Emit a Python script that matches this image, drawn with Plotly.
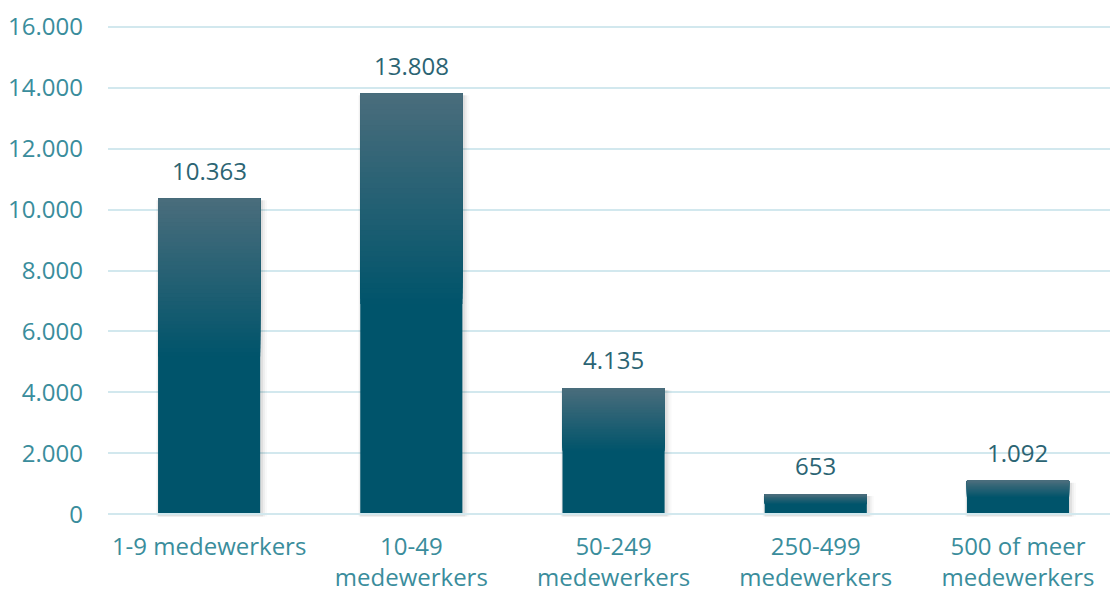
import plotly.graph_objects as go

# Aantal bedrijven per grootteklasse
categories = [
    "1-9 medewerkers",
    "10-49<br>medewerkers",
    "50-249<br>medewerkers",
    "250-499<br>medewerkers",
    "500 of meer<br>medewerkers",
]
values = [10363, 13808, 4135, 653, 1092]
y_ticks = [0, 2000, 4000, 6000, 8000, 10000, 12000, 14000, 16000]

FONT = "Open Sans"
FONT_SIZE = 24
TICK_COLOR = "#3a8d9c"
LABEL_COLOR = "#2b6473"
GRID_COLOR = "#d2e8ee"
DARK = (0, 84, 107)      # bar colour at the base
LIGHT = (74, 109, 124)   # bar colour at the top
BAR_WIDTH = 0.505
STEPS = 40               # gradient slices in the upper half of each bar


def mix(a, b, t):
    return "rgb({},{},{})".format(*[round(a[i] + (b[i] - a[i]) * t) for i in range(3)])


def fmt(v):
    return f"{v:,}".replace(",", ".")


fig = go.Figure()

# soft shadow behind the bars, mostly towards the right
for w, a, dx in [(0.55, 0.025, 0.012), (0.535, 0.04, 0.009), (0.52, 0.06, 0.007)]:
    fig.add_trace(go.Bar(
        x=categories, y=[v + 20 for v in values], base=[-75] * len(values),
        width=w, offset=-w / 2 + dx,
        marker=dict(color=f"rgba(0,0,0,{a})", line=dict(width=0)),
        hoverinfo="skip", showlegend=False,
    ))

# solid base of each bar
fig.add_trace(go.Bar(
    x=categories, y=values, width=BAR_WIDTH,
    marker=dict(color=mix(DARK, DARK, 0), line=dict(width=0)),
    hovertemplate="%{x}: %{y:,d}<extra></extra>", showlegend=False,
))

# vertical gradient over the upper half: each slice runs from its start to the bar top
for k in range(STEPS):
    frac = 0.5 + 0.5 * k / STEPS
    t = (k + 0.5) / STEPS
    fig.add_trace(go.Bar(
        x=categories,
        y=[v * (1 - frac) for v in values],
        base=[v * frac for v in values],
        width=BAR_WIDTH,
        marker=dict(color=mix(DARK, LIGHT, t), line=dict(width=0)),
        hoverinfo="skip", showlegend=False,
    ))

# value labels above the bars
for c, v in zip(categories, values):
    fig.add_annotation(
        x=c, y=v, text=fmt(v), showarrow=False,
        yanchor="bottom", yshift=10,
        font=dict(family=FONT, size=FONT_SIZE, color=LABEL_COLOR),
    )

fig.update_layout(
    width=1110, height=592,
    margin=dict(l=108, r=0, t=25.2, b=75.3),
    barmode="overlay",
    plot_bgcolor="white", paper_bgcolor="white",
    font=dict(family=FONT, size=FONT_SIZE, color=TICK_COLOR),
    separators=",.",
    xaxis=dict(
        range=[-0.5, 4.455], showgrid=False, showline=False, zeroline=False,
        ticks="", ticklabelstandoff=13, fixedrange=True,
        tickfont=dict(family=FONT, size=FONT_SIZE, color=TICK_COLOR),
    ),
    yaxis=dict(
        range=[-90, 16060], tickvals=y_ticks,
        ticktext=[fmt(v) for v in y_ticks],
        showgrid=True, gridcolor=GRID_COLOR, gridwidth=2,
        zeroline=True, zerolinecolor=GRID_COLOR, zerolinewidth=2,
        showline=False, ticks="", ticklabelstandoff=24,
        tickfont=dict(family=FONT, size=FONT_SIZE, color=TICK_COLOR),
    ),
)

# the baseline runs across the foot of the bars
try:
    fig.update_yaxes(zerolinelayer="above traces")
except ValueError:
    fig.add_hline(y=0, line=dict(color=GRID_COLOR, width=2), layer="above")

fig.write_html("out.html")
